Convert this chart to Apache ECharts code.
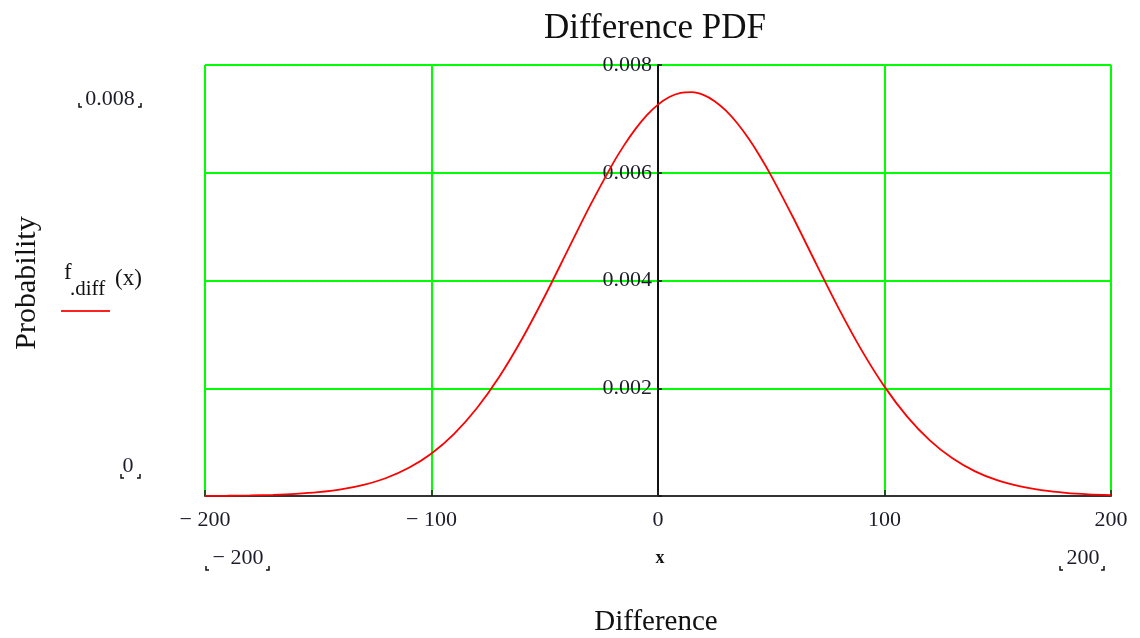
<!DOCTYPE html>
<html>
<head>
<meta charset="utf-8">
<script src="https://cdn.jsdelivr.net/npm/echarts@6/dist/echarts.min.js"></script>
<style>
  html, body { margin: 0; padding: 0; background: #fff; }
  #chart { width: 1140px; height: 638px; }
</style>
</head>
<body>
<div id="chart"></div>
<script>
// x positions (Difference) and f.diff(x)
const xValues = [-200, -190, -180, -170, -160, -150, -140, -130, -120, -110,
  -100, -90, -80, -70, -60, -50, -40, -30, -20, -15, -10, -5,
  0, 5, 10, 15, 20, 25, 30, 35, 40, 45, 50, 60, 70, 80, 90,
  100, 110, 120, 130, 140, 150, 160, 170, 180, 190, 200];
const pdfValues = [0.000003, 0.000005, 0.000011, 0.000021, 0.000039, 0.00007, 0.000122, 0.000206, 0.000334, 0.000523,
  0.00079, 0.001155, 0.001629, 0.002218, 0.002919, 0.003708, 0.004549, 0.005389, 0.006165, 0.006508, 0.00681, 0.007065,
  0.007265, 0.007406, 0.007484, 0.007497, 0.007445, 0.007329, 0.007152, 0.006918, 0.006634, 0.006307, 0.005943, 0.005141, 0.004295, 0.003465, 0.002699,
  0.00203, 0.001474, 0.001034, 0.0007, 0.000458, 0.000289, 0.000177, 0.000104, 0.000059, 0.000032, 0.000017];
const xTicks = [-200, -100, 0, 100, 200];
const yTicks = [0.002, 0.004, 0.006, 0.008];

const FONT = "'Liberation Serif', 'DejaVu Serif', serif";
const TXT = "#1c1c2a";
const GREEN = "#00ff00";

const chart = echarts.init(document.getElementById("chart"));

function fmtX(v) {
  if (xTicks.indexOf(v) < 0) return "";
  return v < 0 ? "\u2212 " + Math.abs(v) : String(v);
}
function fmtY(v) {
  for (let i = 0; i < yTicks.length; i++) {
    if (Math.abs(v - yTicks[i]) < 1e-9) return yTicks[i].toFixed(3);
  }
  return "";
}

// little Mathcad range corner marks under a label
function corners(x1, x2, y) {
  return [
    { type: "polyline", shape: { points: [[x1, y - 4], [x1, y], [x1 + 3, y]] },
      style: { stroke: "#111", fill: null, lineWidth: 1.5 } },
    { type: "polyline", shape: { points: [[x2, y - 4], [x2, y], [x2 - 3, y]] },
      style: { stroke: "#111", fill: null, lineWidth: 1.5 } }
  ];
}

const option = {
  backgroundColor: "#ffffff",
  animation: false,
  grid: { left: 205, right: 29, top: 65, bottom: 142 },
  xAxis: {
    type: "value",
    min: -200,
    max: 200,
    interval: 100,
    axisLine: { onZero: false, lineStyle: { color: "#333", width: 2 } },
    axisTick: { show: true, inside: true, length: 6, lineStyle: { color: "#222", width: 1.5 } },
    axisLabel: { formatter: fmtX, fontFamily: FONT, fontSize: 22, color: TXT, margin: 13, showMinLabel: true, showMaxLabel: true },
    splitLine: { show: true, lineStyle: { color: GREEN, width: 2 } }
  },
  yAxis: {
    type: "value",
    min: 0,
    max: 0.008,
    interval: 0.002,
    position: "left",
    offset: -453, // y axis crosses at x = 0
    axisLine: { show: true, onZero: false, lineStyle: { color: "#111", width: 2 } },
    axisTick: { show: true, inside: true, length: 4, lineStyle: { color: "#111", width: 1.5 } },
    axisLabel: { formatter: fmtY, fontFamily: FONT, fontSize: 22, color: TXT, margin: 6, padding: [5, 0, 0, 0] },
    splitLine: { show: true, lineStyle: { color: GREEN, width: 2 } }
  },
  series: [
    {
      name: "f.diff(x)",
      type: "line",
      smooth: 0.3,
      symbol: "none",
      lineStyle: { color: "#ff0000", width: 1.8 },
      data: xValues.map((x, i) => [x, pdfValues[i]]),
      z: 5
    }
  ],
  graphic: [
    { type: "text", x: 655, y: 29, style: { text: "Difference PDF", font: "35px " + FONT, fill: "#111", align: "center", verticalAlign: "middle" } },
    { type: "text", x: 656, y: 622, style: { text: "Difference", font: "29px " + FONT, fill: "#111", align: "center", verticalAlign: "middle" } },
    { type: "text", x: 660, y: 558, style: { text: "x", font: "bold 18px " + FONT, fill: "#111", align: "center", verticalAlign: "middle" } },
    { type: "text", x: 27, y: 283, rotation: Math.PI / 2, style: { text: "Probability", font: "30px " + FONT, fill: "#111", align: "center", verticalAlign: "middle" } },
    { type: "text", x: 64, y: 284, style: { text: "f", font: "23px " + FONT, fill: "#111", align: "left", verticalAlign: "bottom" } },
    { type: "text", x: 70, y: 300, style: { text: ".diff", font: "21px " + FONT, fill: "#111", align: "left", verticalAlign: "bottom" } },
    { type: "text", x: 115, y: 290, style: { text: "(x)", font: "23px " + FONT, fill: "#111", align: "left", verticalAlign: "bottom" } },
    { type: "line", shape: { x1: 61, y1: 311, x2: 110, y2: 311 }, style: { stroke: "#ff2020", lineWidth: 2 } },
    { type: "text", x: 110, y: 99, style: { text: "0.008", font: "22px " + FONT, fill: TXT, align: "center", verticalAlign: "middle" } },
    { type: "text", x: 128, y: 466, style: { text: "0", font: "22px " + FONT, fill: TXT, align: "center", verticalAlign: "middle" } },
    { type: "text", x: 238, y: 558, style: { text: "\u2212 200", font: "22px " + FONT, fill: TXT, align: "center", verticalAlign: "middle" } },
    { type: "text", x: 1083, y: 558, style: { text: "200", font: "22px " + FONT, fill: TXT, align: "center", verticalAlign: "middle" } }
  ].concat(corners(79, 141, 107), corners(121, 140, 478), corners(206, 269, 570), corners(1060, 1104, 570))
};

chart.setOption(option);
window.addEventListener("resize", () => chart.resize(), false);
</script>
</body>
</html>
